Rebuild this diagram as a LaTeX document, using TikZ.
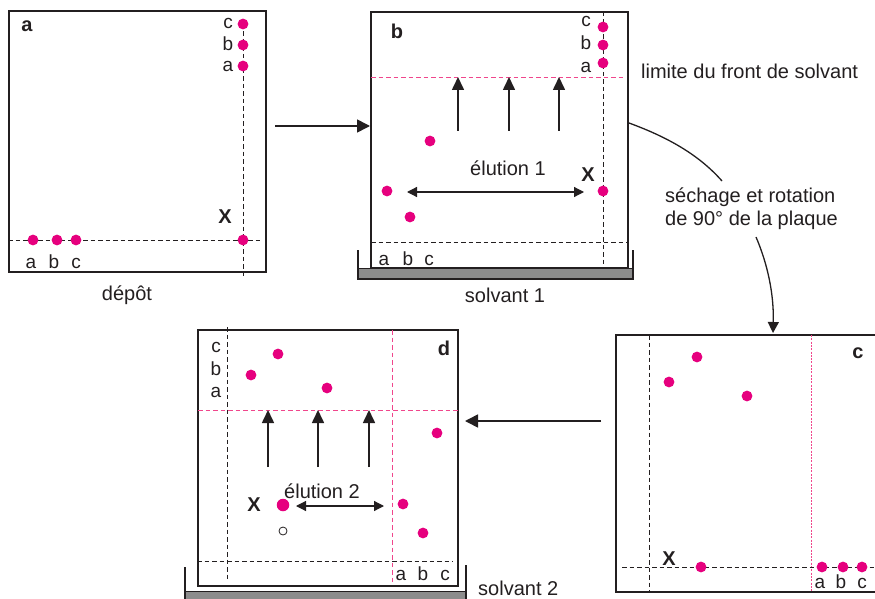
\documentclass[tikz,border=0pt]{standalone}
\usepackage{fontspec}
\setmainfont{Liberation Sans}
\usetikzlibrary{arrows.meta}
\definecolor{spot}{RGB}{230,0,126}
\definecolor{frontc}{RGB}{240,70,140}
\definecolor{trayc}{RGB}{140,140,140}
\definecolor{ink}{RGB}{35,31,32}
\begin{document}
\begin{tikzpicture}[x=1pt,y=-1pt,
  plate/.style={draw=ink, line width=1.7pt, inner sep=0pt, outer sep=0pt},
  guide/.style={draw=ink, line width=0.8pt, dash pattern=on 4.5pt off 3pt},
  frontline/.style={draw=frontc, line width=0.8pt, dash pattern=on 4.5pt off 3pt},
  frontdot/.style={draw=frontc, line width=0.9pt, dash pattern=on 2pt off 1.3pt},
  spotdot/.style={circle, fill=spot, inner sep=0pt, minimum size=10.8pt},
  bigdot/.style={circle, fill=spot, inner sep=0pt, minimum size=12.5pt},
  opendot/.style={circle, draw=ink, line width=0.8pt, inner sep=0pt, minimum size=8pt},
  lbl/.style={font=\fontsize{19}{22}\selectfont, inner sep=0pt, text=ink},
  txt/.style={font=\fontsize{20}{24}\selectfont, inner sep=0pt, text=ink},
  bold/.style={font=\fontsize{20}{24}\selectfont\bfseries, inner sep=0pt, text=ink},
  flow/.style={draw=ink, line width=1.6pt, -{Triangle[length=13pt,width=13pt]}},
  elute/.style={draw=ink, line width=1.2pt, {Triangle[length=10pt,width=10pt]}-{Triangle[length=10pt,width=10pt]}},
  rise/.style={draw=ink, line width=1.6pt, -{Triangle[length=13pt,width=12pt]}},
  curv/.style={draw=ink, line width=1.3pt},
  trayline/.style={draw=ink, line width=1.6pt},
  trayfill/.style={fill=trayc, draw=ink, line width=1pt},
]
\useasboundingbox (0,0) rectangle (875,599);
\fill[white] (0,0) rectangle (875,599);

% ================= panel a =================
\node[plate, minimum width=257pt, minimum height=261pt] (pa) at (137.5,141.5) {};
\draw[guide] (243,24) -- (243,278);
\draw[guide] (8,240) -- (262,240);
\node[spotdot] (ac) at (243,24) {};
\node[spotdot] (ab) at (243,45) {};
\node[spotdot] (aa) at (243,66) {};
\node[spotdot] (ax) at (243,240) {};
\node[spotdot] (a1) at (33,240) {};
\node[spotdot] (a2) at (57,240) {};
\node[spotdot] (a3) at (76,240) {};
\node[lbl, anchor=base] (acl) at (228,29) {c};
\node[lbl, anchor=base] (abl) at (228,51) {b};
\node[lbl, anchor=base] (aal) at (228,72) {a};
\node[lbl, anchor=base] (a1l) at (31,268) {a};
\node[lbl, anchor=base] (a2l) at (54,268) {b};
\node[lbl, anchor=base] (a3l) at (76,268) {c};
\node[bold, anchor=base] (axl) at (225,223) {X};
\node[bold, anchor=base] (ta) at (27,32) {a};
\node[txt, anchor=base] (depot) at (127,300) {dépôt};

% ================= panel b =================
\node[plate, minimum width=257pt, minimum height=256pt] (pb) at (499.5,140) {};
\draw[guide] (603,12) -- (603,265);
\draw[guide] (371,242) -- (629,242);
\draw[frontline] (371,77) -- (624,77);
\node[spotdot] (bc) at (603,27) {};
\node[spotdot] (bb) at (603,45) {};
\node[spotdot] (ba) at (603,63) {};
\node[spotdot] (bx) at (603,191) {};
\node[spotdot] (b1) at (430,141) {};
\node[spotdot] (b2) at (387,191) {};
\node[spotdot] (b3) at (410,217) {};
\node[lbl, anchor=base] (bcl) at (586,27) {c};
\node[lbl, anchor=base] (bbl) at (586,50) {b};
\node[lbl, anchor=base] (bal) at (586,73) {a};
\node[lbl, anchor=base] (b1l) at (384,265) {a};
\node[lbl, anchor=base] (b2l) at (408,265) {b};
\node[lbl, anchor=base] (b3l) at (429,265) {c};
\node[bold, anchor=base] (bxl) at (588,181) {X};
\node[bold, anchor=base] (tb) at (397,39) {b};
\node[txt, anchor=base] (el1) at (508,175) {élution 1};
\coordinate (bu1s) at (458,131); \coordinate (bu1e) at (458,77);
\coordinate (bu2s) at (509,131); \coordinate (bu2e) at (509,77);
\coordinate (bu3s) at (559,131); \coordinate (bu3e) at (559,77);
\draw[rise] (bu1s) -- (bu1e);
\draw[rise] (bu2s) -- (bu2e);
\draw[rise] (bu3s) -- (bu3e);
\coordinate (bel) at (407,192); \coordinate (ber) at (584,192);
\draw[elute] (bel) -- (ber);
% tray 1
\fill[trayfill] (358,268) rectangle (633,279);
\draw[trayline] (358,250) -- (358,279) -- (633,279) -- (633,250);
\node[txt, anchor=base] (solv1) at (505,302) {solvant 1};

% connector a -> b
\coordinate (ab1) at (275,126); \coordinate (ab2) at (370,126);
\draw[flow] (ab1) -- (ab2);

% front label
\node[txt, anchor=base west] (limite) at (641,79) {limite du front de solvant};

% drying / rotation
\node[txt, anchor=base west] (sech1) at (665,202) {séchage et rotation};
\node[txt, anchor=base west] (sech2) at (665,225) {de 90° de la plaque};
\coordinate (cv1) at (629,123);
\coordinate (cv2) at (722,181);
\coordinate (cv3) at (756,237);
\coordinate (cv4) at (773,333);
\draw[curv] (cv1) .. controls (670,138) and (700,156) .. (cv2);
\draw[curv, -{Triangle[length=11pt,width=11pt]}] (cv3) .. controls (768,265) and (774,295) .. (cv4);

% ================= panel c =================
\node[plate, minimum width=270pt, minimum height=257pt] (pc) at (751,463.5) {};
\draw[guide] (649,335) -- (649,592);
\draw[frontdot] (811,335) -- (811,592);
\draw[guide] (622,567) -- (880,567);
\node[spotdot] (c1) at (697,357) {};
\node[spotdot] (c2) at (669,382) {};
\node[spotdot] (c3) at (747,396) {};
\node[spotdot] (cx) at (701,567) {};
\node[spotdot] (ca) at (822,567) {};
\node[spotdot] (cb) at (843,567) {};
\node[spotdot] (cc) at (862,567) {};
\node[lbl, anchor=base] (cal) at (820,588) {a};
\node[lbl, anchor=base] (cbl) at (841,588) {b};
\node[lbl, anchor=base] (ccl) at (862,588) {c};
\node[bold, anchor=base] (cxl) at (669,565) {X};
\node[bold, anchor=base] (tc) at (858,358) {c};

% connector c -> d
\coordinate (cd1) at (601,421); \coordinate (cd2) at (465,421);
\draw[flow] (cd1) -- (cd2);

% ================= panel d =================
\node[plate, minimum width=260pt, minimum height=256pt] (pd) at (328,458) {};
\draw[guide] (227,327) -- (227,580);
\draw[frontline] (392,330) -- (392,583);
\draw[frontline] (198,410) -- (458,410);
\draw[guide] (197,561) -- (453,561);
\node[spotdot] (d1) at (278,354) {};
\node[spotdot] (d2) at (251,375) {};
\node[spotdot] (d3) at (327,388) {};
\node[spotdot] (d4) at (437,433) {};
\node[spotdot] (d5) at (403,504) {};
\node[spotdot] (d6) at (423,533) {};
\node[bigdot] (dx) at (283,505) {};
\node[opendot] (dxo) at (283,531) {};
\node[lbl, anchor=base] (dcl) at (216,352) {c};
\node[lbl, anchor=base] (dbl) at (216,375) {b};
\node[lbl, anchor=base] (dal) at (216,397) {a};
\node[lbl, anchor=base] (d1l) at (401,580) {a};
\node[lbl, anchor=base] (d2l) at (423,580) {b};
\node[lbl, anchor=base] (d3l) at (445,580) {c};
\node[bold, anchor=base] (dxl) at (254,511) {X};
\node[bold, anchor=base] (td) at (444,355) {d};
\node[txt, anchor=base] (el2) at (322,498) {élution 2};
\coordinate (du1s) at (268,467); \coordinate (du1e) at (268,410);
\coordinate (du2s) at (318,467); \coordinate (du2e) at (318,410);
\coordinate (du3s) at (369,467); \coordinate (du3e) at (369,410);
\draw[rise] (du1s) -- (du1e);
\draw[rise] (du2s) -- (du2e);
\draw[rise] (du3s) -- (du3e);
\coordinate (del) at (296,506); \coordinate (der) at (384,506);
\draw[elute] (del) -- (der);
% tray 2
\fill[trayfill] (185,591) rectangle (466,603);
\draw[trayline] (185,567) -- (185,603);
\draw[trayline] (466,565) -- (466,603);
\node[txt, anchor=base west] (solv2) at (478,595) {solvant 2};
\end{tikzpicture}
\end{document}
